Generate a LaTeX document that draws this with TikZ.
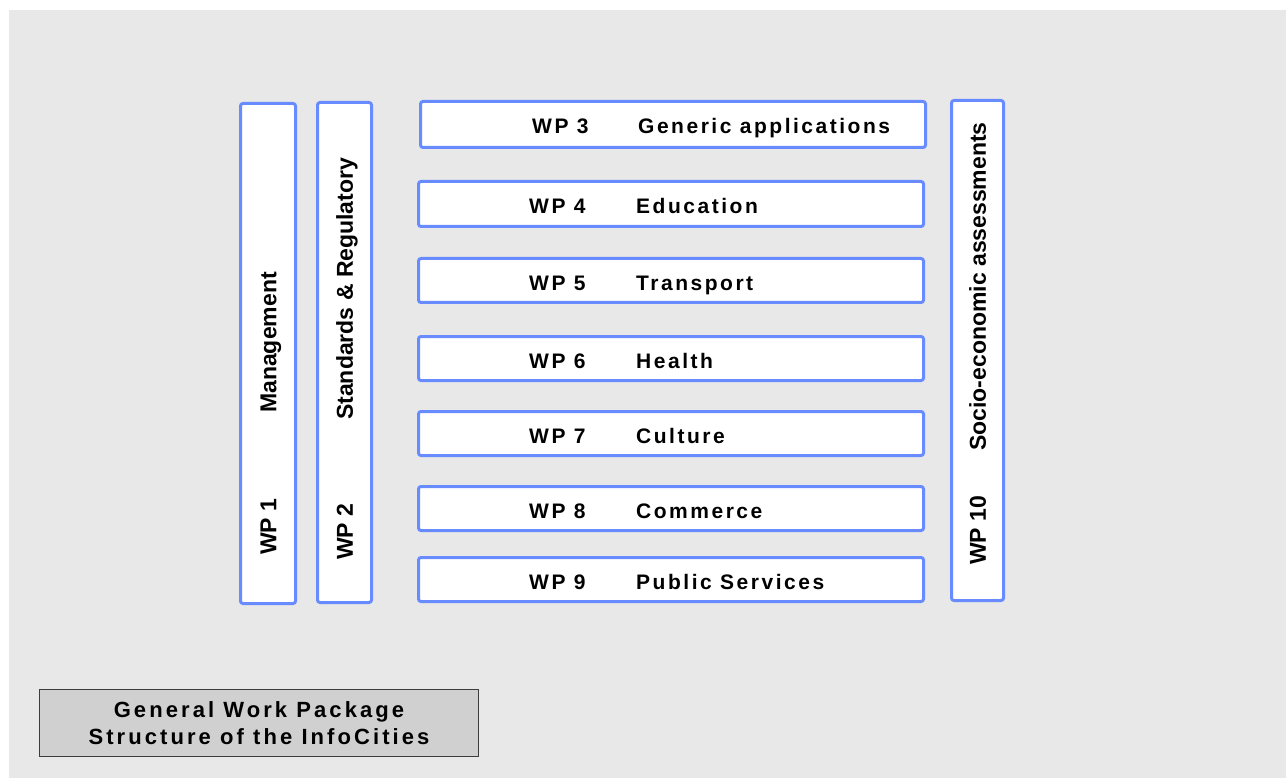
\documentclass[tikz,border=0pt]{standalone}
\usepackage{fontspec}
\setmainfont{Liberation Sans}
\newfontfamily\spacedfont[LetterSpace=12]{Liberation Sans}
\newfontfamily\captionfont[LetterSpace=14]{Liberation Sans}
\definecolor{pagegray}{RGB}{232,232,232}
\definecolor{wpblue}{RGB}{104,140,255}
\definecolor{capgray}{RGB}{208,208,208}
\definecolor{capedge}{RGB}{60,60,60}
\begin{document}
\begin{tikzpicture}[x=1pt,y=-1pt,
  wpbox/.style={draw=wpblue, line width=3pt, fill=white, rounded corners=2.5pt,
    inner sep=0pt},
  hlabel/.style={anchor=base west, inner sep=0pt,
    font=\spacedfont\bfseries\fontsize{21}{24}\selectfont},
  vlabel/.style={anchor=base west, inner sep=0pt, rotate=90,
    font=\bfseries\fontsize{23}{26}\selectfont},
  captionbox/.style={draw=capedge, line width=1.2pt, fill=capgray, inner sep=0pt,
    align=center, font=\captionfont\bfseries\fontsize{22}{27.6}\selectfont}]
\useasboundingbox (0,0) rectangle (1286,778);
\fill[pagegray] (9,10) rectangle (1286,778);

% vertical work packages
\node[wpbox, minimum width=55pt, minimum height=500pt] (wp1) at (268,353.5) {};
\node[wpbox, minimum width=54pt, minimum height=500pt] (wp2) at (344.5,352.5) {};
\node[wpbox, minimum width=52pt, minimum height=500pt] (wp10) at (977.5,350.5) {};

% horizontal work packages
\node[wpbox, minimum width=505pt, minimum height=46pt] (wp3) at (673,124.5) {};
\node[wpbox, minimum width=505pt, minimum height=45pt] (wp4) at (671,204) {};
\node[wpbox, minimum width=505pt, minimum height=44pt] (wp5) at (671,280.5) {};
\node[wpbox, minimum width=505pt, minimum height=44pt] (wp6) at (671,358.5) {};
\node[wpbox, minimum width=505pt, minimum height=44pt] (wp7) at (671,433.5) {};
\node[wpbox, minimum width=505pt, minimum height=44pt] (wp8) at (671,508.5) {};
\node[wpbox, minimum width=505pt, minimum height=44pt] (wp9) at (671,579.5) {};

% labels of the vertical boxes
\node[vlabel] (wp1num) at (276.3,555) {WP 1};
\node[vlabel] (wp1name) at (276.3,413) {Management};
\node[vlabel] (wp2num) at (352.8,560) {WP 2};
\node[vlabel] (wp2name) at (352.8,420) {Standards \& Regulatory};
\node[vlabel] (wp10num) at (985.8,565) {WP 10};
\node[vlabel] (wp10name) at (985.8,451) {Socio-economic assessments};

% labels of the horizontal boxes
\node[hlabel] (wp3num) at (532,134) {WP 3};
\node[hlabel] (wp3name) at (638,134) {Generic applications};
\node[hlabel] (wp4num) at (529,214) {WP 4};
\node[hlabel] (wp4name) at (636,214) {Education};
\node[hlabel] (wp5num) at (529,290.5) {WP 5};
\node[hlabel] (wp5name) at (636,290.5) {Transport};
\node[hlabel] (wp6num) at (529,368.5) {WP 6};
\node[hlabel] (wp6name) at (636,368.5) {Health};
\node[hlabel] (wp7num) at (529,443.5) {WP 7};
\node[hlabel] (wp7name) at (636,443.5) {Culture};
\node[hlabel] (wp8num) at (529,518.5) {WP 8};
\node[hlabel] (wp8name) at (636,518.5) {Commerce};
\node[hlabel] (wp9num) at (529,589.5) {WP 9};
\node[hlabel] (wp9name) at (636,589.5) {Public Services};

% caption
\node[captionbox, minimum width=439pt, minimum height=67pt] (caption) at (259,723)
  {General Work Package\\Structure of the InfoCities};
\end{tikzpicture}
\end{document}
